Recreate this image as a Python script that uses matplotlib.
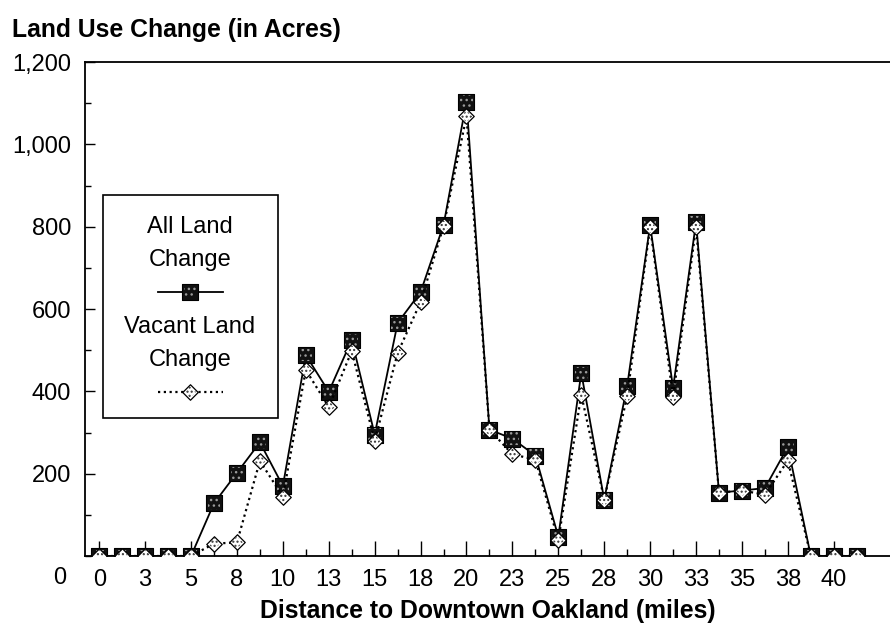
import matplotlib
matplotlib.use("Agg")
from matplotlib import pyplot as plt
from matplotlib.lines import Line2D
from matplotlib.patches import Rectangle
from matplotlib.ticker import MultipleLocator

plt.rcParams['font.family'] = ['Liberation Sans', 'DejaVu Sans']

# distance categories (miles), one every 1.25 miles
dist = [0, 1.25, 2.5, 3.75, 5, 6.25, 7.5, 8.75, 10, 11.25, 12.5, 13.75,
        15, 16.25, 17.5, 18.75, 20, 21.25, 22.5, 23.75, 25, 26.25, 27.5,
        28.75, 30, 31.25, 32.5, 33.75, 35, 36.25, 37.5, 38.75, 40, 41.25]
all_land = [0, 0, 0, 0, 0, 128, 202, 276, 170, 488, 399, 525, 295, 566,
            641, 804, 1104, 307, 285, 244, 47, 445, 137, 413, 804, 408,
            811, 154, 159, 165, 265, 0, 0, 0]
vacant = [0, 0, 0, 0, 0, 30, 33, 231, 144, 452, 362, 498, 280, 493,
          617, 801, 1068, 307, 247, 234, 38, 392, 137, 389, 799, 387,
          799, 154, 159, 149, 232, 0, 0, 0]
xtick_labels = ['0', '3', '5', '8', '10', '13', '15', '18', '20', '23',
                '25', '28', '30', '33', '35', '38', '40']
ytick_vals = [200, 400, 600, 800, 1000, 1200]
ytick_labels = ['200', '400', '600', '800', '1,000', '1,200']

W, H = 890, 627
fs = 17
fs_bold = 17.8

SQ = 125      # square marker area (pt^2)
DM = 62       # diamond marker area (pt^2)
DOTTED = (0, (1, 1.6))

def px(x, y):
    return x / W, 1 - y / H

def squares(a, x, y, **kw):
    a.scatter(x, y, marker='s', s=SQ, facecolor='#111111',
              edgecolor='black', linewidth=0.8, zorder=3, **kw)
    a.scatter(x, y, marker='s', s=SQ * 0.65, facecolor='none',
              edgecolor='#9a9a9a', hatch='...', linewidth=0, zorder=3, **kw)

def diamonds(a, x, y, **kw):
    a.scatter(x, y, marker='D', s=DM, facecolor='white',
              edgecolor='black', linewidth=0.9, zorder=5, **kw)
    a.scatter(x, y, marker='D', s=DM * 0.6, facecolor='none',
              edgecolor='#333333', hatch='....', linewidth=0, zorder=5, **kw)

fig = plt.figure(figsize=(W / 100, H / 100), dpi=100)
ax = fig.add_axes([85 / W, 1 - 556 / H, 1 - 85 / W, (556 - 62) / H])

idx = list(range(len(dist)))

# all land change: solid line + dark squares
ax.plot(idx, all_land, color='black', lw=1.3, zorder=2)
squares(ax, idx, all_land)

# vacant land change: dotted line + light diamonds
ax.plot(idx, vacant, color='black', lw=1.6, ls=DOTTED, zorder=4)
diamonds(ax, idx, vacant)

ax.set_xlim(-0.62, 34.45)
ax.set_ylim(0, 1200)

ax.set_xticks(idx[::2])
ax.set_xticklabels(xtick_labels)
ax.set_xticks(idx[1::2], minor=True)
ax.set_yticks(ytick_vals)
ax.set_yticklabels(ytick_labels)
ax.yaxis.set_minor_locator(MultipleLocator(100))

ax.tick_params(axis='x', which='major', direction='in', length=11,
               width=1, labelsize=fs, pad=9)
ax.tick_params(axis='x', which='minor', direction='in', length=5, width=1)
ax.tick_params(axis='y', which='major', direction='in', length=7,
               width=1, labelsize=fs, pad=10)
ax.tick_params(axis='y', which='minor', direction='in', length=4, width=1)

for s in ['left', 'bottom', 'top']:
    ax.spines[s].set_linewidth(1.3)
ax.spines['right'].set_visible(False)

ax.set_xlabel('Distance to Downtown Oakland (miles)', fontsize=fs_bold,
              fontweight='bold', labelpad=6)

fig.text(*px(12, 30), 'Land Use Change (in Acres)', fontsize=fs_bold,
         fontweight='bold', ha='left', va='center')
fig.text(*px(60, 578), '0', fontsize=fs, ha='center', va='center')

# hand-built legend box (labels above line samples)
x0, y0 = px(103, 418)
x1, y1 = px(278, 195)
fig.add_artist(Rectangle((x0, y0), x1 - x0, y1 - y0, transform=fig.transFigure,
                         facecolor='white', edgecolor='black', lw=1.2, zorder=10))
cx = 190
for txt, y in [('All Land', 227), ('Change', 260),
               ('Vacant Land', 327), ('Change', 360)]:
    fig.text(*px(cx, y), txt, fontsize=fs, ha='center', va='center', zorder=11)

lx = [158 / W, 223 / W]
ly = px(0, 292)[1]
ly2 = px(0, 392)[1]
fig.add_artist(Line2D(lx, [ly, ly], transform=fig.transFigure, color='black',
                      lw=1.3, zorder=11))
fig.add_artist(Line2D(lx, [ly2, ly2], transform=fig.transFigure, color='black',
                      lw=1.6, ls=DOTTED, zorder=11))

# overlay axes for the legend markers so they sit above the box
lax = fig.add_axes([0, 0, 1, 1], zorder=20)
lax.set_xlim(0, 1)
lax.set_ylim(0, 1)
lax.axis('off')
squares(lax, [cx / W], [ly], clip_on=False)
diamonds(lax, [cx / W], [ly2], clip_on=False)

fig.savefig('out.png', dpi=100)
